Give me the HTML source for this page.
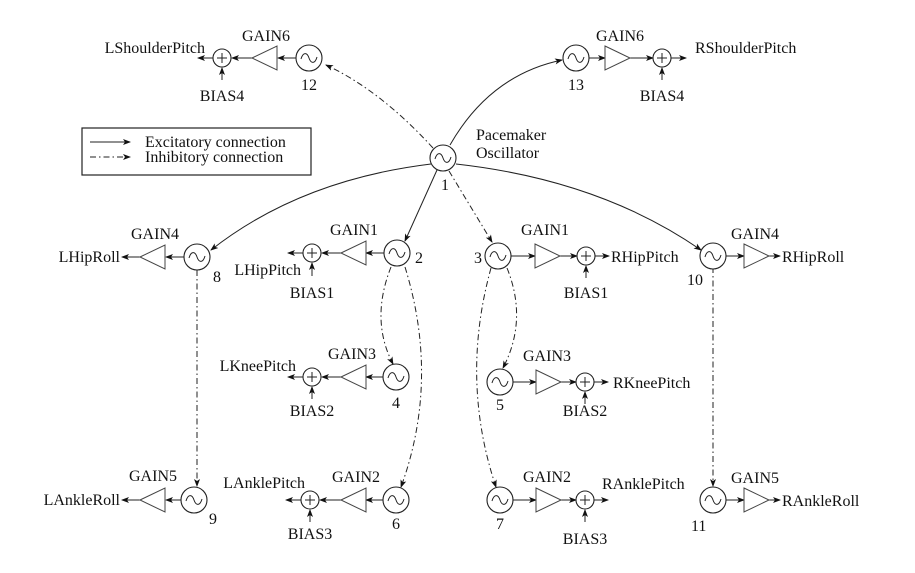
<!DOCTYPE html>
<html><head><meta charset="utf-8"><style>
html,body{margin:0;padding:0;background:#fff;}
svg{display:block;}
text{font-family:"Liberation Serif",serif;font-size:16px;fill:#111;}
.e{text-anchor:end;}
.m{text-anchor:middle;}
</style></head><body>
<svg width="915" height="573" viewBox="0 0 915 573" xmlns="http://www.w3.org/2000/svg">
<defs>
<marker id="a" markerWidth="8" markerHeight="8" refX="7" refY="4" orient="auto" markerUnits="userSpaceOnUse"><path d="M0,1 L8,4 L0,7 L2,4Z" fill="#111"/></marker>
<g id="osc"><circle r="13" fill="#fff" stroke="#222" stroke-width="1.1"/><path d="M-8,1 C-6,-6 -2,-6 0,0 C2,6 6,6 8,-1" fill="none" stroke="#222" stroke-width="1"/></g>
<g id="sum"><circle r="9" fill="#fff" stroke="#222" stroke-width="1.1"/><path d="M-5,0H5M0,-5V5" stroke="#222" stroke-width="1"/></g>
<path id="tl" d="M0,0 L25,-12 L25,12Z" fill="#fff" stroke="#444" stroke-width="1"/>
<path id="tr" d="M0,-12 L25,0 L0,12Z" fill="#fff" stroke="#444" stroke-width="1"/>
</defs>
<g stroke="#222" stroke-width="1" fill="none">
<path d="M433,148 Q380,90 326,65" stroke-dasharray="6,3,1.5,3" marker-end="url(#a)"/>
<path d="M450,145 Q490,75 562,60" marker-end="url(#a)"/>
<path d="M431,164 Q300,180 211,250" marker-end="url(#a)"/>
<path d="M456,164 Q600,180 701,250" marker-end="url(#a)"/>
<path d="M437,170 L405,241" marker-end="url(#a)"/>
<path d="M449,171 L492,242" stroke-dasharray="6,3,1.5,3" marker-end="url(#a)"/>
<path d="M391,267 Q370,320 393,364" stroke-dasharray="6,3,1.5,3" marker-end="url(#a)"/>
<path d="M405,267 Q440,380 401,487" stroke-dasharray="6,3,1.5,3" marker-end="url(#a)"/>
<path d="M197,270 L197,486" stroke-dasharray="6,3,1.5,3" marker-end="url(#a)"/>
<path d="M507,268 Q528,320 503,368" stroke-dasharray="6,3,1.5,3" marker-end="url(#a)"/>
<path d="M491,268 Q460,380 496,487" stroke-dasharray="6,3,1.5,3" marker-end="url(#a)"/>
<path d="M713,267 L713,486" stroke-dasharray="6,3,1.5,3" marker-end="url(#a)"/>
<path d="M296,58H278" marker-end="url(#a)"/><path d="M252,58H232" marker-end="url(#a)"/><path d="M213,58H198" marker-end="url(#a)"/><path d="M222,80V68" marker-end="url(#a)"/>
<path d="M184,257H166" marker-end="url(#a)"/><path d="M140,257H122" marker-end="url(#a)"/>
<path d="M384,253H366" marker-end="url(#a)"/><path d="M341,253H322" marker-end="url(#a)"/><path d="M303,253H288" marker-end="url(#a)"/><path d="M312,276V263" marker-end="url(#a)"/>
<path d="M383,377H366" marker-end="url(#a)"/><path d="M341,377H322" marker-end="url(#a)"/><path d="M303,377H288" marker-end="url(#a)"/><path d="M312,399V387" marker-end="url(#a)"/>
<path d="M383,500H366" marker-end="url(#a)"/><path d="M341,500H320" marker-end="url(#a)"/><path d="M301,500H286" marker-end="url(#a)"/><path d="M310,522V510" marker-end="url(#a)"/>
<path d="M181,500H166" marker-end="url(#a)"/><path d="M140,500H122" marker-end="url(#a)"/>
<path d="M589,58H605" marker-end="url(#a)"/><path d="M630,58H653" marker-end="url(#a)"/><path d="M671,58H686" marker-end="url(#a)"/><path d="M662,80V68" marker-end="url(#a)"/>
<path d="M511,256H535" marker-end="url(#a)"/><path d="M560,256H577" marker-end="url(#a)"/><path d="M595,256H609" marker-end="url(#a)"/><path d="M586,278V266" marker-end="url(#a)"/>
<path d="M513,382H536" marker-end="url(#a)"/><path d="M561,382H576" marker-end="url(#a)"/><path d="M594,382H608" marker-end="url(#a)"/><path d="M585,404V392" marker-end="url(#a)"/>
<path d="M513,500H536" marker-end="url(#a)"/><path d="M561,500H576" marker-end="url(#a)"/><path d="M594,500H608" marker-end="url(#a)"/><path d="M585,522V510" marker-end="url(#a)"/>
<path d="M726,256H744" marker-end="url(#a)"/><path d="M768,256H780" marker-end="url(#a)"/>
<path d="M726,500H744" marker-end="url(#a)"/><path d="M768,500H780" marker-end="url(#a)"/>
<rect x="82" y="128" width="229" height="47" stroke-width="1.2"/>
<path d="M90,142H130" marker-end="url(#a)"/>
<path d="M90,157H130" stroke-dasharray="6,3,1.5,3" marker-end="url(#a)"/>
</g>
<use href="#osc" x="443" y="158"/>
<use href="#osc" x="309" y="58"/><use href="#tl" x="252" y="58"/><use href="#sum" x="222" y="58"/>
<use href="#osc" x="576" y="58"/><use href="#tr" x="605" y="58"/><use href="#sum" x="662" y="58"/>
<use href="#osc" x="197" y="257"/><use href="#tl" x="140" y="257"/>
<use href="#osc" x="397" y="253"/><use href="#tl" x="341" y="253"/><use href="#sum" x="312" y="253"/>
<use href="#osc" x="396" y="377"/><use href="#tl" x="341" y="377"/><use href="#sum" x="312" y="377"/>
<use href="#osc" x="396" y="500"/><use href="#tl" x="341" y="500"/><use href="#sum" x="310" y="500"/>
<use href="#osc" x="194" y="500"/><use href="#tl" x="140" y="500"/>
<use href="#osc" x="498" y="256"/><use href="#tr" x="535" y="256"/><use href="#sum" x="586" y="256"/>
<use href="#osc" x="500" y="382"/><use href="#tr" x="536" y="382"/><use href="#sum" x="585" y="382"/>
<use href="#osc" x="500" y="500"/><use href="#tr" x="536" y="500"/><use href="#sum" x="585" y="500"/>
<use href="#osc" x="713" y="256"/><use href="#tr" x="744" y="256"/>
<use href="#osc" x="713" y="500"/><use href="#tr" x="744" y="500"/>
<text x="145" y="147">Excitatory connection</text>
<text x="145" y="162">Inhibitory connection</text>
<text x="476" y="140">Pacemaker</text>
<text x="476" y="158">Oscillator</text>
<text x="441" y="190" font-size="18">1</text>
<text class="e" x="205" y="53">LShoulderPitch</text><text class="m" x="266" y="41">GAIN6</text><text class="m" x="222" y="101">BIAS4</text><text class="m" x="309" y="90">12</text>
<text x="695" y="53">RShoulderPitch</text><text class="m" x="620" y="41">GAIN6</text><text class="m" x="662" y="101">BIAS4</text><text class="m" x="576" y="90">13</text>
<text class="e" x="120" y="262">LHipRoll</text><text class="m" x="155" y="239">GAIN4</text><text x="213" y="282">8</text>
<text class="e" x="301" y="275">LHipPitch</text><text class="m" x="354" y="235">GAIN1</text><text class="m" x="312" y="298">BIAS1</text><text x="415" y="263">2</text>
<text class="e" x="296" y="371">LKneePitch</text><text class="m" x="352" y="359">GAIN3</text><text class="m" x="312" y="416">BIAS2</text><text class="m" x="396" y="408">4</text>
<text class="e" x="305" y="488">LAnklePitch</text><text class="m" x="356" y="482">GAIN2</text><text class="m" x="310" y="539">BIAS3</text><text class="m" x="396" y="529">6</text>
<text class="e" x="120" y="505">LAnkleRoll</text><text class="m" x="153" y="481">GAIN5</text><text x="209" y="524">9</text>
<text x="474" y="263">3</text><text class="m" x="545" y="235">GAIN1</text><text x="611" y="262">RHipPitch</text><text class="m" x="586" y="298">BIAS1</text>
<text class="m" x="500" y="410">5</text><text class="m" x="547" y="361">GAIN3</text><text x="613" y="388">RKneePitch</text><text class="m" x="585" y="416">BIAS2</text>
<text class="m" x="500" y="529">7</text><text class="m" x="547" y="482">GAIN2</text><text x="602" y="489">RAnklePitch</text><text class="m" x="585" y="544">BIAS3</text>
<text x="687" y="285">10</text><text class="m" x="755" y="239">GAIN4</text><text x="782" y="262">RHipRoll</text>
<text x="691" y="531">11</text><text class="m" x="755" y="483">GAIN5</text><text x="782" y="506">RAnkleRoll</text>
</svg>
</body></html>
